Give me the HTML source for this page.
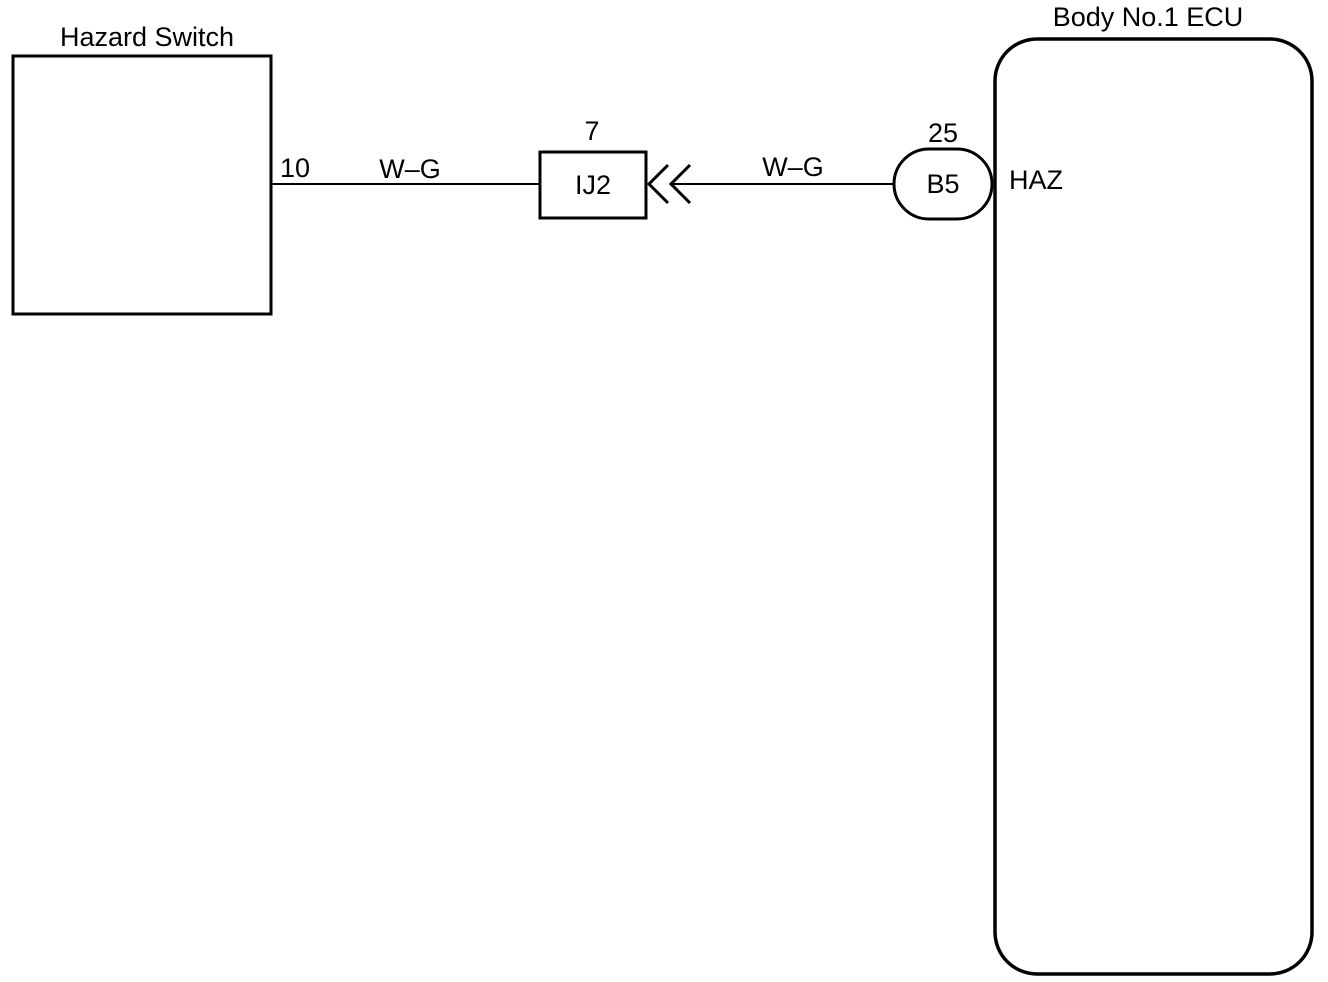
<!DOCTYPE html>
<html><head><meta charset="utf-8"><style>
html,body{margin:0;padding:0;background:#fff;}
svg{display:block;}
text{font-family:"Liberation Sans",Arial,sans-serif;fill:#000;}
</style></head><body>
<svg width="1328" height="982" viewBox="0 0 1328 982" xmlns="http://www.w3.org/2000/svg">
<rect x="13" y="56" width="258" height="258" fill="none" stroke="#000" stroke-width="3"/>
<text x="147" y="46" font-size="27" text-anchor="middle">Hazard Switch</text>
<line x1="272" y1="184" x2="540" y2="184" stroke="#000" stroke-width="2"/>
<text x="280" y="177" font-size="27">10</text>
<text x="410" y="178" font-size="27" text-anchor="middle">W–G</text>
<rect x="540" y="152" width="106" height="66" fill="none" stroke="#000" stroke-width="3"/>
<text x="593" y="194" font-size="27" text-anchor="middle">IJ2</text>
<text x="592" y="140" font-size="27" text-anchor="middle">7</text>
<polyline points="668,165 649,184 668,203" fill="none" stroke="#000" stroke-width="3"/>
<polyline points="690,165 671,184 690,203" fill="none" stroke="#000" stroke-width="3"/>
<line x1="671" y1="184" x2="894" y2="184" stroke="#000" stroke-width="2"/>
<text x="793" y="176" font-size="27" text-anchor="middle">W–G</text>
<rect x="894" y="149" width="98" height="70" rx="35" ry="35" fill="none" stroke="#000" stroke-width="3"/>
<text x="943" y="193" font-size="27" text-anchor="middle">B5</text>
<text x="943" y="142" font-size="27" text-anchor="middle">25</text>
<rect x="995" y="39" width="317" height="935" rx="42" ry="42" fill="none" stroke="#000" stroke-width="3.5"/>
<text x="1148" y="26" font-size="27" text-anchor="middle">Body No.1 ECU</text>
<text x="1009" y="189" font-size="27">HAZ</text>
</svg>
</body></html>
